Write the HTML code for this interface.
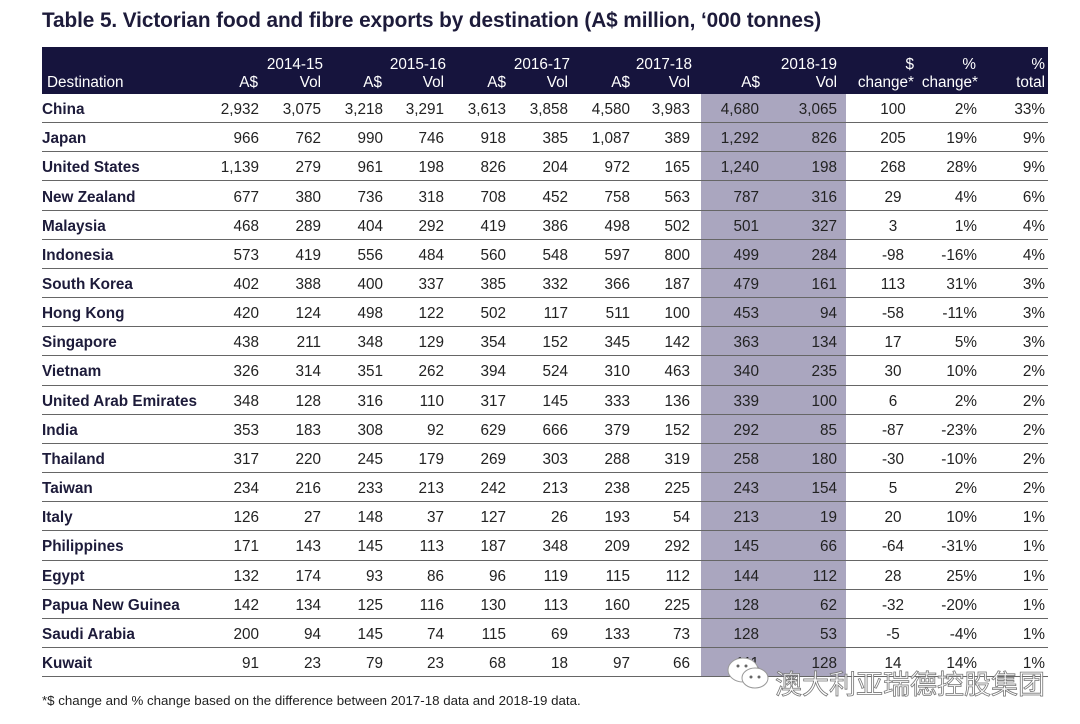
<!DOCTYPE html>
<html><head><meta charset="utf-8"><style>
*{margin:0;padding:0;box-sizing:border-box}
body{width:1080px;height:724px;background:#fff;font-family:"Liberation Sans",sans-serif;color:#222;position:relative;overflow:hidden}
.title{position:absolute;left:42px;top:9px;font-size:20.8px;font-weight:bold;color:#1d1b3a;letter-spacing:-0.1px}
.hdr{position:absolute;left:42px;top:47px;width:1006px;height:47px;background:#16143d;color:#fff;font-size:15.3px}
.hdr div{position:absolute;text-align:right;white-space:nowrap}
.rows{position:absolute;left:42px;top:94px;width:1006px}
.r{display:flex;height:29.16px;border-bottom:1px solid #666;font-size:15.3px;align-items:stretch}
.r span{display:flex;align-items:center;justify-content:flex-end;padding-top:4px;white-space:nowrap}
.r span:first-child{justify-content:flex-start;font-weight:bold;width:158px;color:#1d1b3a}
.c1{width:62px;padding-right:3px}.c2{width:62px;padding-right:3px}.c3{width:62px;padding-right:3px}.c4{width:61px;padding-right:3px}
.c5{width:62px;padding-right:3px}.c6{width:62px;padding-right:3px}.c7{width:62px;padding-right:3px}.c8{width:68px;padding-right:11px}
.c9{width:69px;padding-right:11px;background:#aaa6bf}
.c10{width:76px;padding-right:9px;background:#aaa6bf}
.r span.c11{width:94px;justify-content:center}
.c12{width:40px;padding-right:3px}
.c13{width:68px;padding-right:3px}
.foot{position:absolute;left:42px;top:693px;font-size:13.3px;color:#222}
.wm{position:absolute;left:775px;top:663px;font-family:"Noto Sans CJK SC",sans-serif;font-size:27px;color:rgba(255,255,255,0.85);-webkit-text-stroke:0.8px #777}
</style></head><body>
<div class="title">Table 5. Victorian food and fibre exports by destination (A$ million, ‘000 tonnes)</div>
<div class="hdr">
<div style="left:5px;top:27px;text-align:left">Destination</div>
<div style="right:725px;top:9px">2014-15</div>
<div style="right:790px;top:27px">A$</div><div style="right:727px;top:27px">Vol</div>
<div style="right:602px;top:9px">2015-16</div>
<div style="right:666px;top:27px">A$</div><div style="right:604px;top:27px">Vol</div>
<div style="right:478px;top:9px">2016-17</div>
<div style="right:542px;top:27px">A$</div><div style="right:480px;top:27px">Vol</div>
<div style="right:356px;top:9px">2017-18</div>
<div style="right:418px;top:27px">A$</div><div style="right:358px;top:27px">Vol</div>
<div style="right:211px;top:9px">2018-19</div>
<div style="right:288px;top:27px">A$</div><div style="right:211px;top:27px">Vol</div>
<div style="right:134px;top:9px">$</div><div style="right:134px;top:27px">change*</div>
<div style="right:72px;top:9px">%</div><div style="right:70px;top:27px">change*</div>
<div style="right:3px;top:9px">%</div><div style="right:3px;top:27px">total</div>
</div>
<div class="rows">
<div class="r"><span>China</span><span class="c1">2,932</span><span class="c2">3,075</span><span class="c3">3,218</span><span class="c4">3,291</span><span class="c5">3,613</span><span class="c6">3,858</span><span class="c7">4,580</span><span class="c8">3,983</span><span class="c9">4,680</span><span class="c10">3,065</span><span class="c11">100</span><span class="c12">2%</span><span class="c13">33%</span></div>
<div class="r"><span>Japan</span><span class="c1">966</span><span class="c2">762</span><span class="c3">990</span><span class="c4">746</span><span class="c5">918</span><span class="c6">385</span><span class="c7">1,087</span><span class="c8">389</span><span class="c9">1,292</span><span class="c10">826</span><span class="c11">205</span><span class="c12">19%</span><span class="c13">9%</span></div>
<div class="r"><span>United States</span><span class="c1">1,139</span><span class="c2">279</span><span class="c3">961</span><span class="c4">198</span><span class="c5">826</span><span class="c6">204</span><span class="c7">972</span><span class="c8">165</span><span class="c9">1,240</span><span class="c10">198</span><span class="c11">268</span><span class="c12">28%</span><span class="c13">9%</span></div>
<div class="r"><span>New Zealand</span><span class="c1">677</span><span class="c2">380</span><span class="c3">736</span><span class="c4">318</span><span class="c5">708</span><span class="c6">452</span><span class="c7">758</span><span class="c8">563</span><span class="c9">787</span><span class="c10">316</span><span class="c11">29</span><span class="c12">4%</span><span class="c13">6%</span></div>
<div class="r"><span>Malaysia</span><span class="c1">468</span><span class="c2">289</span><span class="c3">404</span><span class="c4">292</span><span class="c5">419</span><span class="c6">386</span><span class="c7">498</span><span class="c8">502</span><span class="c9">501</span><span class="c10">327</span><span class="c11">3</span><span class="c12">1%</span><span class="c13">4%</span></div>
<div class="r"><span>Indonesia</span><span class="c1">573</span><span class="c2">419</span><span class="c3">556</span><span class="c4">484</span><span class="c5">560</span><span class="c6">548</span><span class="c7">597</span><span class="c8">800</span><span class="c9">499</span><span class="c10">284</span><span class="c11">-98</span><span class="c12">-16%</span><span class="c13">4%</span></div>
<div class="r"><span>South Korea</span><span class="c1">402</span><span class="c2">388</span><span class="c3">400</span><span class="c4">337</span><span class="c5">385</span><span class="c6">332</span><span class="c7">366</span><span class="c8">187</span><span class="c9">479</span><span class="c10">161</span><span class="c11">113</span><span class="c12">31%</span><span class="c13">3%</span></div>
<div class="r"><span>Hong Kong</span><span class="c1">420</span><span class="c2">124</span><span class="c3">498</span><span class="c4">122</span><span class="c5">502</span><span class="c6">117</span><span class="c7">511</span><span class="c8">100</span><span class="c9">453</span><span class="c10">94</span><span class="c11">-58</span><span class="c12">-11%</span><span class="c13">3%</span></div>
<div class="r"><span>Singapore</span><span class="c1">438</span><span class="c2">211</span><span class="c3">348</span><span class="c4">129</span><span class="c5">354</span><span class="c6">152</span><span class="c7">345</span><span class="c8">142</span><span class="c9">363</span><span class="c10">134</span><span class="c11">17</span><span class="c12">5%</span><span class="c13">3%</span></div>
<div class="r"><span>Vietnam</span><span class="c1">326</span><span class="c2">314</span><span class="c3">351</span><span class="c4">262</span><span class="c5">394</span><span class="c6">524</span><span class="c7">310</span><span class="c8">463</span><span class="c9">340</span><span class="c10">235</span><span class="c11">30</span><span class="c12">10%</span><span class="c13">2%</span></div>
<div class="r"><span>United Arab Emirates</span><span class="c1">348</span><span class="c2">128</span><span class="c3">316</span><span class="c4">110</span><span class="c5">317</span><span class="c6">145</span><span class="c7">333</span><span class="c8">136</span><span class="c9">339</span><span class="c10">100</span><span class="c11">6</span><span class="c12">2%</span><span class="c13">2%</span></div>
<div class="r"><span>India</span><span class="c1">353</span><span class="c2">183</span><span class="c3">308</span><span class="c4">92</span><span class="c5">629</span><span class="c6">666</span><span class="c7">379</span><span class="c8">152</span><span class="c9">292</span><span class="c10">85</span><span class="c11">-87</span><span class="c12">-23%</span><span class="c13">2%</span></div>
<div class="r"><span>Thailand</span><span class="c1">317</span><span class="c2">220</span><span class="c3">245</span><span class="c4">179</span><span class="c5">269</span><span class="c6">303</span><span class="c7">288</span><span class="c8">319</span><span class="c9">258</span><span class="c10">180</span><span class="c11">-30</span><span class="c12">-10%</span><span class="c13">2%</span></div>
<div class="r"><span>Taiwan</span><span class="c1">234</span><span class="c2">216</span><span class="c3">233</span><span class="c4">213</span><span class="c5">242</span><span class="c6">213</span><span class="c7">238</span><span class="c8">225</span><span class="c9">243</span><span class="c10">154</span><span class="c11">5</span><span class="c12">2%</span><span class="c13">2%</span></div>
<div class="r"><span>Italy</span><span class="c1">126</span><span class="c2">27</span><span class="c3">148</span><span class="c4">37</span><span class="c5">127</span><span class="c6">26</span><span class="c7">193</span><span class="c8">54</span><span class="c9">213</span><span class="c10">19</span><span class="c11">20</span><span class="c12">10%</span><span class="c13">1%</span></div>
<div class="r"><span>Philippines</span><span class="c1">171</span><span class="c2">143</span><span class="c3">145</span><span class="c4">113</span><span class="c5">187</span><span class="c6">348</span><span class="c7">209</span><span class="c8">292</span><span class="c9">145</span><span class="c10">66</span><span class="c11">-64</span><span class="c12">-31%</span><span class="c13">1%</span></div>
<div class="r"><span>Egypt</span><span class="c1">132</span><span class="c2">174</span><span class="c3">93</span><span class="c4">86</span><span class="c5">96</span><span class="c6">119</span><span class="c7">115</span><span class="c8">112</span><span class="c9">144</span><span class="c10">112</span><span class="c11">28</span><span class="c12">25%</span><span class="c13">1%</span></div>
<div class="r"><span>Papua New Guinea</span><span class="c1">142</span><span class="c2">134</span><span class="c3">125</span><span class="c4">116</span><span class="c5">130</span><span class="c6">113</span><span class="c7">160</span><span class="c8">225</span><span class="c9">128</span><span class="c10">62</span><span class="c11">-32</span><span class="c12">-20%</span><span class="c13">1%</span></div>
<div class="r"><span>Saudi Arabia</span><span class="c1">200</span><span class="c2">94</span><span class="c3">145</span><span class="c4">74</span><span class="c5">115</span><span class="c6">69</span><span class="c7">133</span><span class="c8">73</span><span class="c9">128</span><span class="c10">53</span><span class="c11">-5</span><span class="c12">-4%</span><span class="c13">1%</span></div>
<div class="r"><span>Kuwait</span><span class="c1">91</span><span class="c2">23</span><span class="c3">79</span><span class="c4">23</span><span class="c5">68</span><span class="c6">18</span><span class="c7">97</span><span class="c8">66</span><span class="c9">111</span><span class="c10">128</span><span class="c11">14</span><span class="c12">14%</span><span class="c13">1%</span></div>
</div>
<svg style="position:absolute;left:725px;top:654px" width="50" height="40"><ellipse cx="18" cy="16" rx="15" ry="12" fill="#fff" stroke="#999" stroke-width="1"/><ellipse cx="30" cy="24" rx="13" ry="10" fill="#fff" stroke="#999" stroke-width="1"/><circle cx="26" cy="23" r="1.5" fill="#666"/><circle cx="34" cy="23" r="1.5" fill="#666"/><circle cx="13" cy="12" r="1.5" fill="#666"/><circle cx="21" cy="12" r="1.5" fill="#666"/></svg>
<div class="wm">澳大利亚瑞德控股集团</div>
<div class="foot">*$ change and % change based on the difference between 2017-18 data and 2018-19 data.</div>
</body></html>
